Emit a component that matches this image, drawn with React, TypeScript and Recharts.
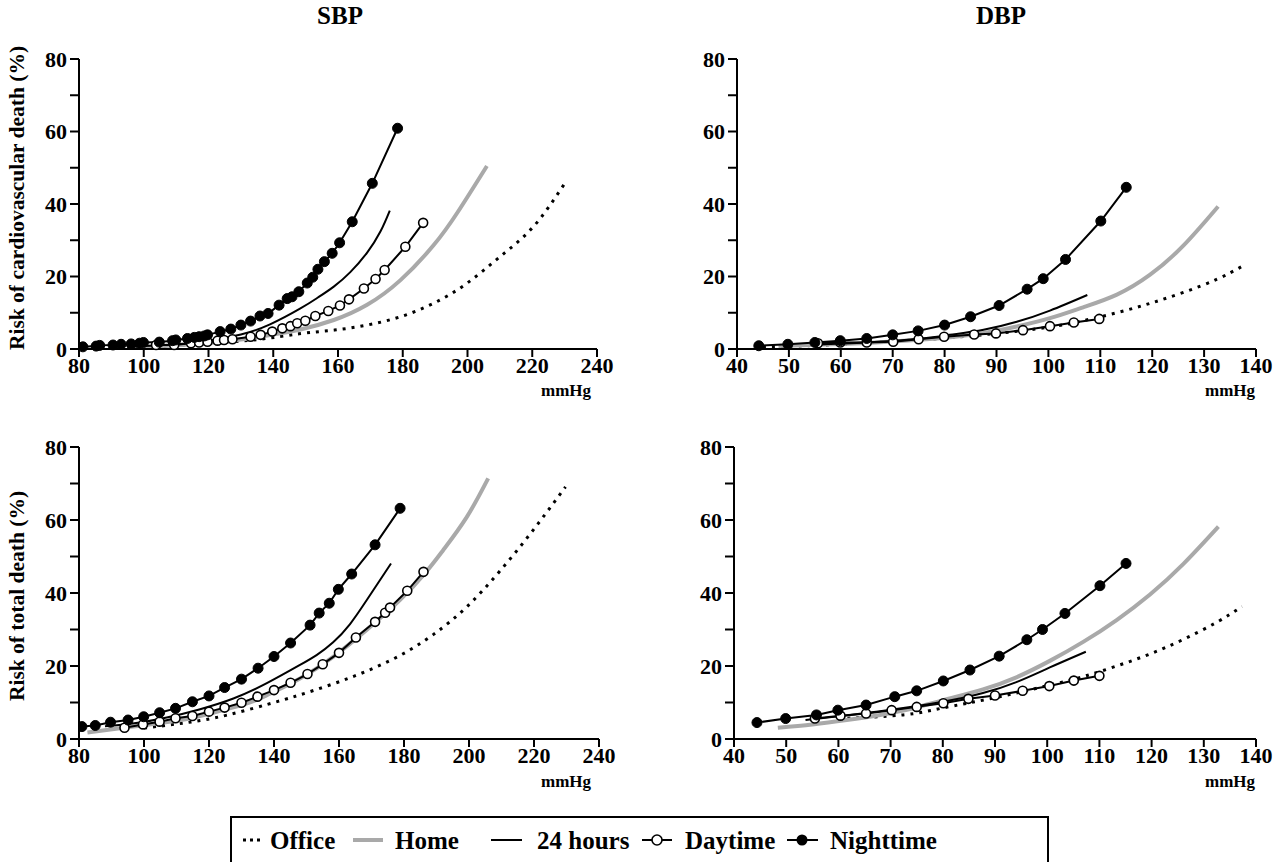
import * as React from 'react';
import { LineChart, Line, XAxis, YAxis } from 'recharts';

type Pt = [number, number];

// SBP – risk of cardiovascular death
const sbpCvOffice: Pt[] = [[95, 0.5], [110, 1.0], [120, 1.6], [135, 2.6], [148, 4.2], [158.7, 5.2], [169, 6.6], [179.3, 8.9], [189.5, 12.6], [199.8, 18.1], [210.1, 25.5], [220.3, 33.7], [229.9, 45.5]];
const sbpCvHome: Pt[] = [[95, 0.5], [110, 1.0], [120, 1.7], [130, 2.6], [140, 4.0], [148.4, 5.4], [158.7, 8.0], [169, 12.2], [179.3, 19], [189.5, 28.6], [197, 37.8], [206, 50.5]];
const sbpCv24h: Pt[] = [[95, 0.6], [110, 1.3], [120, 2.3], [130, 4.0], [139, 6.8], [148.4, 11.2], [153.8, 14.2], [158.7, 17.2], [163.8, 21.2], [169, 26.6], [173.1, 32.4], [176, 38.2]];
const sbpCvDay: Pt[] = [[103.8, 1.1], [109.4, 1.1], [114.6, 1.6], [117.1, 1.8], [119.7, 2.0], [122.8, 2.3], [124.8, 2.5], [127.4, 2.7], [133, 3.4], [136.1, 3.9], [139.7, 4.8], [142.8, 5.7], [145.3, 6.3], [147.4, 7.1], [149.9, 7.8], [153, 9.1], [157, 10.5], [160.6, 12], [163.4, 13.7], [168, 16.7], [171.6, 19.3], [174.4, 21.8], [180.8, 28.2], [186.3, 34.8]];
const sbpCvNight: Pt[] = [[81.2, 0.6], [85.3, 0.8], [86.4, 1.0], [90.5, 1.1], [93, 1.3], [96.1, 1.4], [98.7, 1.6], [99.9, 1.8], [104.8, 1.9], [108.9, 2.3], [109.9, 2.5], [113.5, 2.9], [115.6, 3.2], [117.1, 3.4], [118.7, 3.6], [119.7, 3.9], [123.6, 4.8], [126.9, 5.5], [130, 6.6], [133, 7.7], [135.9, 9.1], [138.4, 9.8], [141.8, 12.1], [144.3, 13.9], [145.8, 14.4], [147.9, 15.8], [150.5, 18.2], [152.2, 19.8], [153.8, 22], [155.8, 24.1], [158.2, 26.4], [160.5, 29.3], [164.4, 35.1], [170.6, 45.7], [178.4, 60.9]];

// DBP – risk of cardiovascular death
const dbpCvOffice: Pt[] = [[45, 0.6], [55, 1.0], [65, 1.7], [72, 2.3], [80, 3.0], [90, 4.3], [100, 6.0], [106.7, 7.8], [113.2, 10.0], [119.6, 12.6], [126, 15.6], [132.4, 19.2], [137.2, 22.7]];
const dbpCvHome: Pt[] = [[48, 0.8], [60, 1.4], [70, 2.1], [80, 3.1], [87.5, 4.4], [93.9, 6.2], [100.3, 8.5], [106.7, 11.5], [113.2, 15.0], [119.6, 20.5], [126, 28.5], [132.7, 39.3]];
const dbpCv24h: Pt[] = [[55, 1.2], [65, 1.8], [75, 2.8], [81, 3.9], [87.5, 5.3], [93.9, 7.5], [100.3, 10.6], [107.5, 14.9]];
const dbpCvDay: Pt[] = [[55.6, 1.6], [59.9, 1.8], [65, 1.8], [70.1, 2.0], [75, 2.7], [79.9, 3.4], [85.7, 4.0], [89.9, 4.3], [95.1, 5.2], [100.3, 6.3], [104.9, 7.3], [109.8, 8.3]];
const dbpCvNight: Pt[] = [[44.2, 0.9], [49.8, 1.3], [55, 1.8], [59.9, 2.3], [65, 2.9], [70, 3.9], [74.9, 5.0], [80, 6.6], [85, 8.9], [90.5, 12], [95.9, 16.5], [99, 19.4], [103.3, 24.7], [110.1, 35.3], [115, 44.6]];

// SBP – risk of total death
const sbpTotOffice: Pt[] = [[100, 3.0], [112.5, 4.4], [125.8, 6.6], [141.2, 10.3], [148, 12.1], [158.2, 15.1], [168.5, 18.6], [178.8, 22.9], [189, 28.6], [199.3, 36.2], [209.5, 46.0], [219.8, 57.3], [229.7, 69.1]];
const sbpTotHome: Pt[] = [[82.6, 1.8], [96.7, 3.4], [110, 5.0], [117.2, 6.3], [131, 9.6], [137.8, 12.0], [148, 16.6], [158.2, 22.5], [168.5, 29.9], [178.8, 38.1], [187, 46.0], [192.1, 51.8], [199.3, 60.8], [205.9, 71.4]];
const sbpTot24h: Pt[] = [[88, 3.5], [97, 4.3], [107, 5.9], [117, 8.1], [127.5, 11.1], [137.8, 15.3], [148, 20.3], [153.1, 23.0], [158.2, 26.5], [163.4, 31.5], [168.5, 38.0], [176, 48.1]];
const sbpTotDay: Pt[] = [[94, 3.1], [99.7, 4.0], [104.8, 4.75], [109.7, 5.7], [114.9, 6.3], [120, 7.5], [124.8, 8.6], [130, 9.95], [134.9, 11.6], [140, 13.4], [145.1, 15.4], [150.3, 17.8], [155, 20.5], [160, 23.6], [165.2, 27.8], [171.1, 32.1], [174.2, 34.6], [175.7, 36.0], [181, 40.6], [186, 45.8]];
const sbpTotNight: Pt[] = [[80.9, 3.4], [85, 3.7], [89.7, 4.6], [95.1, 5.2], [99.9, 6.1], [104.8, 7.2], [109.7, 8.4], [114.9, 10.2], [120, 11.8], [124.8, 14.1], [130, 16.4], [135.1, 19.4], [140, 22.6], [145.1, 26.3], [151.1, 31.2], [153.9, 34.5], [157, 37.2], [159.8, 41], [163.9, 45.2], [171.1, 53.2], [178.8, 63.2]];

// DBP – risk of total death
const dbpTotOffice: Pt[] = [[60, 5.6], [72.4, 6.6], [80, 8.5], [90, 11.3], [100, 14.6], [106.9, 17.1], [113.3, 20.0], [119.7, 23.3], [126.1, 27.3], [132.5, 32.0], [137.3, 36.3]];
const dbpTotHome: Pt[] = [[48.4, 3.1], [55, 4.0], [61.6, 5.2], [68, 6.6], [74.3, 8.4], [80, 10.6], [87.7, 13.6], [94.1, 16.9], [100.5, 21.4], [106.9, 26.6], [113.3, 32.6], [119.7, 39.6], [126.1, 48.0], [132.8, 58.2]];
const dbpTot24h: Pt[] = [[53.7, 5.2], [60, 6.2], [70, 8.0], [80, 10.2], [87.7, 12.6], [94.1, 15.6], [100.5, 19.6], [107.4, 23.9]];
const dbpTotDay: Pt[] = [[55.5, 5.6], [60.4, 6.4], [65.3, 7.0], [70.2, 7.9], [75, 8.8], [80.1, 9.8], [84.9, 11.0], [90, 11.9], [95.3, 13.2], [100.4, 14.5], [105.1, 16.0], [110, 17.3]];
const dbpTotNight: Pt[] = [[44.4, 4.5], [49.9, 5.6], [55.8, 6.6], [59.9, 7.9], [65.3, 9.3], [70.8, 11.6], [75, 13.2], [80.1, 15.9], [85.2, 18.9], [90.8, 22.7], [96.1, 27.2], [99.1, 30], [103.4, 34.4], [110.1, 42], [115.1, 48.1]];

const yTicks = [0, 10, 20, 30, 40, 50, 60, 70, 80];
const sbpTicks = [80, 100, 120, 140, 160, 180, 200, 220, 240];
const dbpTicks = [40, 50, 60, 70, 80, 90, 100, 110, 120, 130, 140];

const FONT = 'Liberation Serif, Times New Roman, serif';
const GREY = '#a9a9a9';

const rows = (pts: Pt[]) => pts.map(([x, y]) => ({ x, y }));

const renderXTick = (props: any) => (
  <text key={`x-${props.payload.value}`} x={props.x} y={props.y + 15} textAnchor="middle" fontFamily={FONT} fontWeight="bold" fontSize={22} fill="#000">
    {props.payload.value}
  </text>
);

const renderYTick = (props: any) =>
  props.payload.value % 20 !== 0 ? (
    <g key={`y-${props.payload.value}`} />
  ) : (
    <text key={`y-${props.payload.value}`} x={props.x} y={props.y + 7.5} textAnchor="end" fontFamily={FONT} fontWeight="bold" fontSize={22} fill="#000">
      {props.payload.value}
    </text>
  );

interface PanelProps {
  left: number;
  top: number;
  width: number;
  margin: { top: number; right: number; bottom: number; left: number };
  yWidth: number;
  xTicks: number[];
  office: Pt[];
  home: Pt[];
  h24: Pt[];
  day: Pt[];
  night: Pt[];
}

const Panel: React.FC<PanelProps> = ({ left, top, width, margin, yWidth, xTicks, office, home, h24, day, night }) => (
  <div style={{ position: 'absolute', left, top }}>
    <LineChart width={width} height={400} margin={margin}>
      <XAxis
        type="number"
        dataKey="x"
        domain={[xTicks[0], xTicks[xTicks.length - 1]]}
        ticks={xTicks}
        interval={0}
        allowDataOverflow
        height={30}
        tickSize={8}
        tickMargin={1}
        tick={renderXTick}
        axisLine={{ stroke: '#000', strokeWidth: 2 }}
        tickLine={{ stroke: '#000', strokeWidth: 2 }}
      />
      <YAxis
        type="number"
        dataKey="y"
        domain={[0, 80]}
        ticks={yTicks}
        interval={0}
        width={yWidth}
        tickSize={9}
        tickMargin={3}
        tick={renderYTick}
        axisLine={{ stroke: '#000', strokeWidth: 2 }}
        tickLine={{ stroke: '#000', strokeWidth: 2 }}
      />
      <Line data={rows(office)} dataKey="y" type="natural" stroke="#000" strokeWidth={3} strokeDasharray="3 6" dot={false} isAnimationActive={false} />
      <Line data={rows(home)} dataKey="y" type="natural" stroke={GREY} strokeWidth={4} dot={false} isAnimationActive={false} />
      <Line data={rows(h24)} dataKey="y" type="natural" stroke="#000" strokeWidth={2} dot={false} isAnimationActive={false} />
      <Line data={rows(day)} dataKey="y" type="linear" stroke="#000" strokeWidth={2} dot={{ r: 4.5, fill: '#fff', stroke: '#000', strokeWidth: 1.6 }} isAnimationActive={false} />
      <Line data={rows(night)} dataKey="y" type="linear" stroke="#000" strokeWidth={2} dot={{ r: 5, fill: '#000', stroke: '#000', strokeWidth: 1 }} isAnimationActive={false} />
    </LineChart>
  </div>
);

const textBase: React.CSSProperties = { position: 'absolute', fontFamily: FONT, fontWeight: 700, color: '#000', whiteSpace: 'nowrap' };

const Centered: React.FC<{ x: number; y: number; size: number; rotate?: boolean; children: React.ReactNode }> = ({ x, y, size, rotate, children }) => (
  <div style={{ ...textBase, left: x, top: y, fontSize: size, lineHeight: 1, transform: `translate(-50%, -50%)${rotate ? ' rotate(-90deg)' : ''}` }}>
    {children}
  </div>
);

const Legend: React.FC = () => (
  <svg style={{ position: 'absolute', left: 230, top: 816 }} width={819} height={46}>
    <rect x={1} y={1} width={817} height={48} fill="#fff" stroke="#000" strokeWidth={2} />
    <g fontFamily={FONT} fontWeight="bold" fontSize={25} fill="#000">
      <line x1={13} x2={33} y1={24} y2={24} stroke="#000" strokeWidth={3} strokeDasharray="3 4" />
      <text x={40} y={33}>Office</text>
      <line x1={123} x2={153} y1={24} y2={24} stroke={GREY} strokeWidth={4} />
      <text x={165} y={33}>Home</text>
      <line x1={261} x2={292} y1={24} y2={24} stroke="#000" strokeWidth={2} />
      <text x={307} y={33}>24 hours</text>
      <line x1={412} x2={442} y1={24} y2={24} stroke="#000" strokeWidth={2} />
      <circle cx={427} cy={24} r={5} fill="#fff" stroke="#000" strokeWidth={1.6} />
      <text x={455} y={33}>Daytime</text>
      <line x1={557} x2={588} y1={24} y2={24} stroke="#000" strokeWidth={2} />
      <circle cx={572} cy={24} r={5.5} fill="#000" />
      <text x={600} y={33}>Nighttime</text>
    </g>
  </svg>
);

export default function App() {
  return (
    <div style={{ position: 'absolute', left: 0, top: 0, width: 1278, height: 862, background: '#fff', overflow: 'hidden' }}>
      <Centered x={340} y={15} size={25}>SBP</Centered>
      <Centered x={1001} y={15} size={25}>DBP</Centered>
      <Centered x={18} y={198} size={21.5} rotate>Risk of cardiovascular death (%)</Centered>
      <Centered x={18} y={596} size={21.5} rotate>Risk of total death (%)</Centered>

      <Panel left={0} top={0} width={620} margin={{ top: 59, right: 23, bottom: 21, left: 20 }} yWidth={59} xTicks={sbpTicks}
        office={sbpCvOffice} home={sbpCvHome} h24={sbpCv24h} day={sbpCvDay} night={sbpCvNight} />
      <Panel left={640} top={0} width={638} margin={{ top: 59, right: 22, bottom: 21, left: 17 }} yWidth={80} xTicks={dbpTicks}
        office={dbpCvOffice} home={dbpCvHome} h24={dbpCv24h} day={dbpCvDay} night={dbpCvNight} />
      <Panel left={0} top={390} width={620} margin={{ top: 57, right: 21, bottom: 21, left: 20 }} yWidth={59} xTicks={sbpTicks}
        office={sbpTotOffice} home={sbpTotHome} h24={sbpTot24h} day={sbpTotDay} night={sbpTotNight} />
      <Panel left={640} top={390} width={638} margin={{ top: 57, right: 22, bottom: 21, left: 14 }} yWidth={80} xTicks={dbpTicks}
        office={dbpTotOffice} home={dbpTotHome} h24={dbpTot24h} day={dbpTotDay} night={dbpTotNight} />

      <Centered x={566} y={390} size={17}>mmHg</Centered>
      <Centered x={1230} y={390} size={17}>mmHg</Centered>
      <Centered x={566} y={781} size={17}>mmHg</Centered>
      <Centered x={1230} y={781} size={17}>mmHg</Centered>

      <Legend />
    </div>
  );
}
